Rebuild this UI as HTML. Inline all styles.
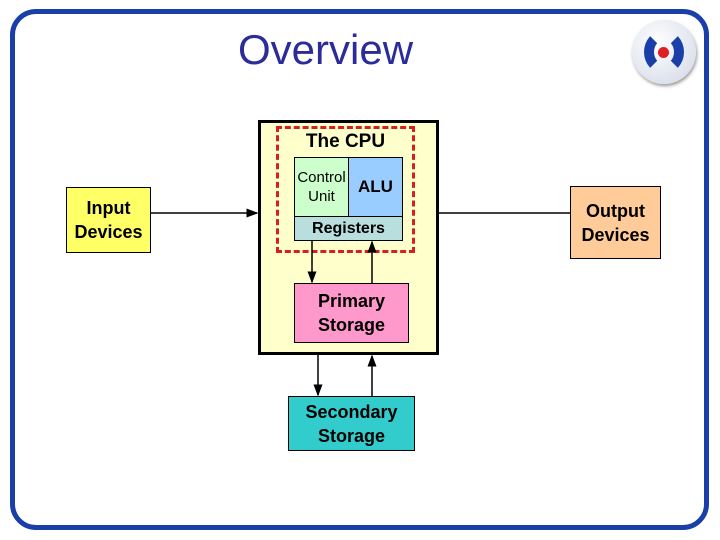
<!DOCTYPE html>
<html><head><style>
body{margin:0;width:720px;height:540px;background:#fff;position:relative;font-family:"Liberation Sans",sans-serif;overflow:hidden}
.b{position:absolute;box-sizing:border-box;border:1px solid #000;display:flex;align-items:center;justify-content:center;text-align:center;line-height:24px;font-size:18px;font-weight:bold}
</style></head><body>
<div style="position:absolute;left:10px;top:9px;width:699px;height:521px;box-sizing:border-box;border:5px solid #1a3fa8;border-radius:26px"></div>
<div style="position:absolute;left:238px;top:26px;font-size:42px;color:#2b2b9a">Overview</div>
<div style="position:absolute;left:632px;top:20px;width:64px;height:64px;border-radius:50%;background:radial-gradient(circle at 40% 35%,#fff,#cfd6e4);box-shadow:1px 2px 3px #999"></div>
<div style="position:absolute;left:644px;top:30px;width:40px;height:44px;border:10px solid #1a3fa8;border-radius:50%;border-top-color:transparent;border-bottom-color:transparent;box-sizing:border-box"></div>
<div style="position:absolute;left:658px;top:47px;width:11px;height:11px;border-radius:50%;background:#e02020"></div>
<div style="position:absolute;left:258px;top:120px;width:181px;height:235px;box-sizing:border-box;border:3px solid #000;background:#ffffcc"></div>
<div style="position:absolute;left:276px;top:126px;width:139px;height:127px;box-sizing:border-box;border:3px dashed #d42020"></div>
<div style="position:absolute;left:276px;top:131px;width:139px;text-align:center;font-size:19px;font-weight:bold">The CPU</div>
<div class="b" style="left:294px;top:157px;width:55px;height:60px;background:#ccffcc;font-size:15px;line-height:19px;font-weight:normal">Control<br>Unit</div>
<div class="b" style="left:348px;top:157px;width:55px;height:60px;background:#99ccff;font-size:17px">ALU</div>
<div class="b" style="left:294px;top:216px;width:109px;height:25px;background:#b8dede;font-size:16px">Registers</div>
<div class="b" style="left:294px;top:283px;width:115px;height:60px;background:#ff99cc">Primary<br>Storage</div>
<div class="b" style="left:288px;top:396px;width:127px;height:55px;background:#33cccc">Secondary<br>Storage</div>
<div class="b" style="left:66px;top:187px;width:85px;height:66px;background:#ffff66">Input<br>Devices</div>
<div class="b" style="left:570px;top:186px;width:91px;height:73px;background:#ffcc99">Output<br>Devices</div>
<svg width="720" height="540" style="position:absolute;left:0;top:0">
<defs><marker id="a" markerWidth="8" markerHeight="8" refX="7" refY="4" orient="auto"><path d="M0,1 L8,4 L0,7z" fill="#000"/></marker></defs>
<g stroke="#000" stroke-width="1.5" marker-end="url(#a)">
<line x1="151" y1="213" x2="257" y2="213"/>
<line x1="312" y1="241" x2="312" y2="282"/>
<line x1="372" y1="283" x2="372" y2="242"/>
<line x1="318" y1="355" x2="318" y2="395"/>
<line x1="372" y1="396" x2="372" y2="356"/>
</g>
<line x1="439" y1="213" x2="570" y2="213" stroke="#000" stroke-width="1.5"/>
</svg>
</body></html>
